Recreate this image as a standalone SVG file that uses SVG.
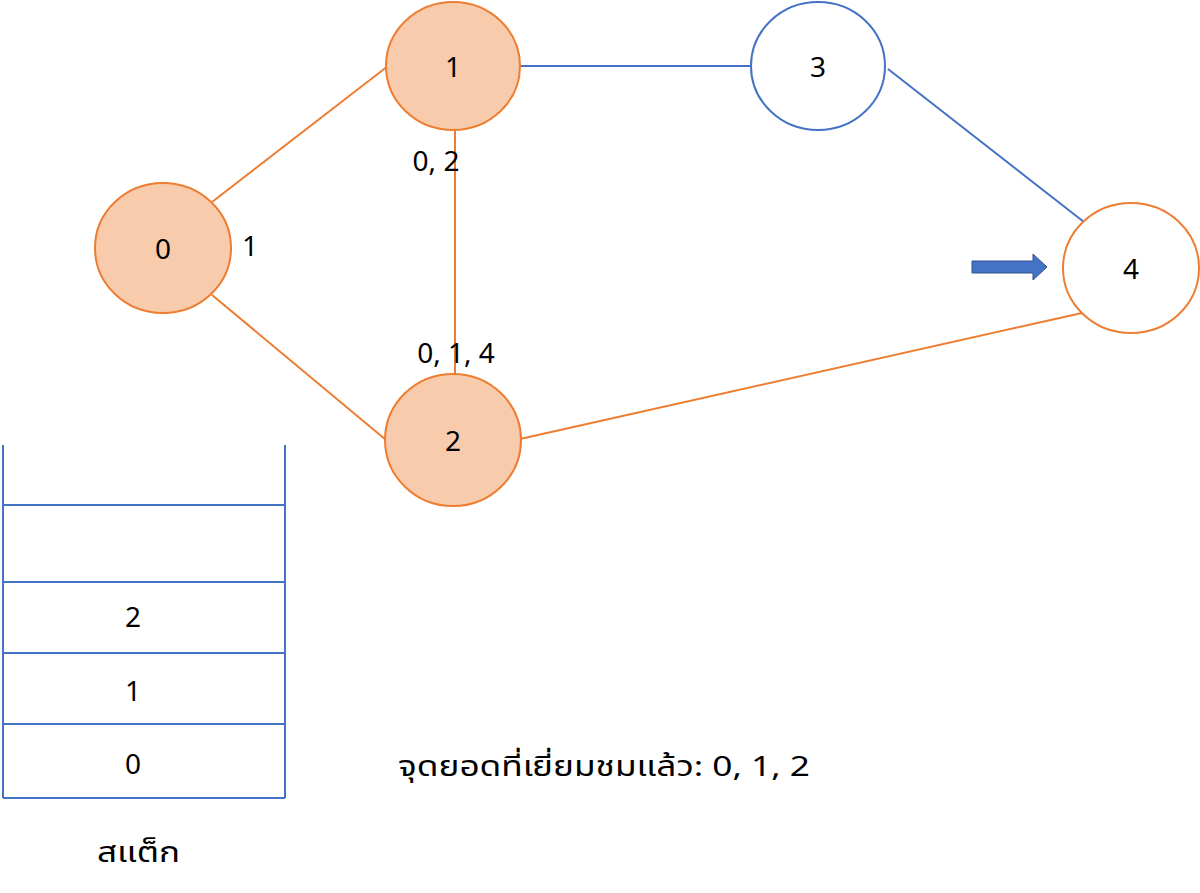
<svg xmlns="http://www.w3.org/2000/svg" width="1200" height="893" viewBox="0 0 1200 893">
<style>
.v{fill:#F8CBAD;stroke:#ED7D31;stroke-width:2}
.u{fill:#fff;stroke:#4472C4;stroke-width:2}
.w{fill:#fff;stroke:#ED7D31;stroke-width:2}
.o{stroke:#ED7D31;stroke-width:2;fill:none}
.b{stroke:#4472C4;stroke-width:2;fill:none}
text{font-family:"Noto Sans","Noto Sans Thai","DejaVu Sans","Liberation Sans",sans-serif;font-size:28px;fill:#000}
.c{text-anchor:middle;dominant-baseline:central}
</style>
<rect width="1200" height="893" fill="#fff"/>
<g id="connectors">
<line class="o" x1="212" y1="202" x2="388" y2="66"/>
<line class="o" x1="212" y1="295" x2="386" y2="440"/>
<line class="o" x1="455" y1="131" x2="455" y2="376"/>
<line class="b" x1="520" y1="66" x2="751" y2="66"/>
<line class="b" x1="888" y1="69" x2="1084" y2="222"/>
<line class="o" x1="520" y1="439" x2="1082" y2="313"/>
</g>
<g id="n0"><ellipse class="v" cx="163" cy="248" rx="68" ry="65"/><text class="c" x="163" y="248">0</text></g>
<g id="n1"><ellipse class="v" cx="453" cy="66" rx="67" ry="64"/><text class="c" x="453" y="66">1</text></g>
<g id="n2"><ellipse class="v" cx="453" cy="440" rx="68" ry="66"/><text class="c" x="453" y="440">2</text></g>
<g id="n3"><ellipse class="u" cx="818" cy="66" rx="67" ry="64"/><text class="c" x="818" y="66">3</text></g>
<g id="n4"><ellipse class="w" cx="1131" cy="268" rx="68" ry="65"/><text class="c" x="1131" y="268">4</text></g>
<g id="arrow"><path d="M972,261 H1033 V254 L1047,267 L1033,280 V273 H972 Z" fill="#4472C4" stroke="#2F528F" stroke-width="1"/></g>
<text class="c" x="250" y="245">1</text>
<text class="c" x="436" y="160">0, 2</text>
<text class="c" x="456" y="352">0, 1, 4</text>
<g id="stack">
<path class="b" d="M3,445 V798 M285,445 V798 M3,505 H285 M3,582 H285 M3,653 H285 M3,724 H285 M3,798 H285"/>
<text class="c" x="133" y="616">2</text>
<text class="c" x="133" y="690">1</text>
<text class="c" x="133" y="763">0</text>
</g>
<text x="97" y="862" font-size="34" textLength="83" lengthAdjust="spacingAndGlyphs">สแต็ก</text>
<text x="398" y="776" font-size="32" textLength="412" lengthAdjust="spacingAndGlyphs">จุดยอดที่เยี่ยมชมแล้ว: 0, 1, 2</text>
</svg>
